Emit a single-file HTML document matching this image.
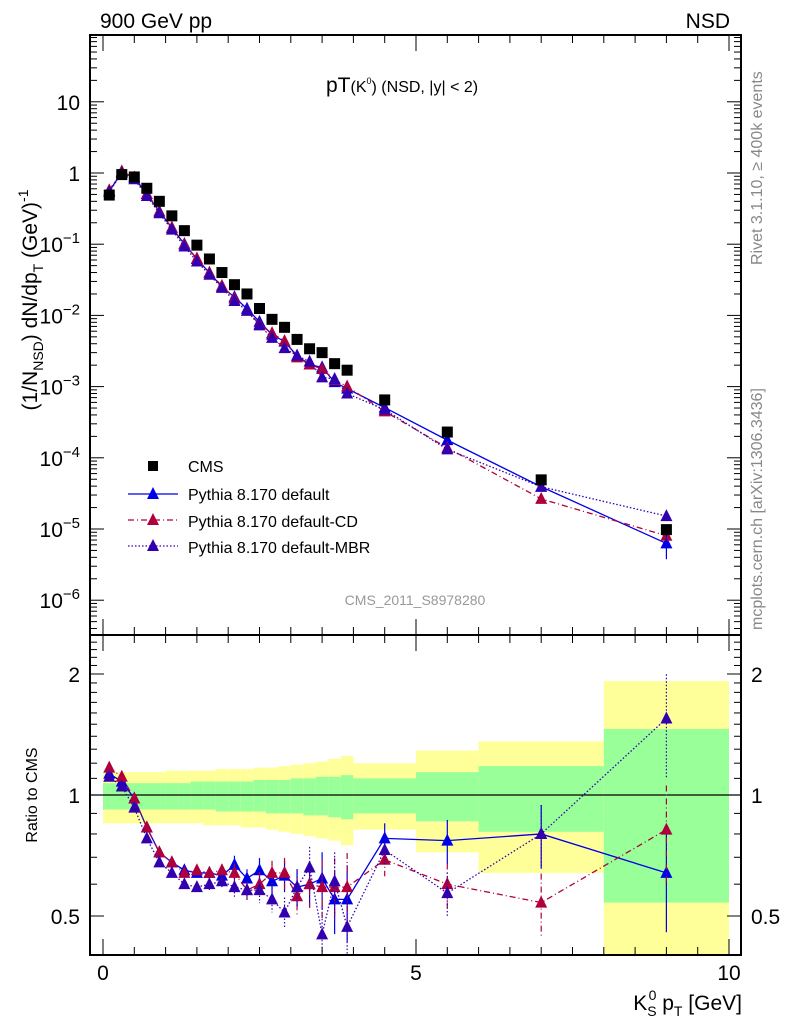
<!DOCTYPE html>
<html><head><meta charset="utf-8"><style>
body{margin:0;background:#fff}
svg{display:block;font-family:"Liberation Sans",sans-serif}
</style></head><body>
<svg id="c" width="786" height="1024" xmlns="http://www.w3.org/2000/svg"></svg>
<script>
const binLo=[0,0.2,0.4,0.6,0.8,1.0,1.2,1.4,1.6,1.8,2.0,2.2,2.4,2.6,2.8,3.0,3.2,3.4,3.6,3.8,4,5,6,8];
const binHi=[0.2,0.4,0.6,0.8,1.0,1.2,1.4,1.6,1.8,2.0,2.2,2.4,2.6,2.8,3.0,3.2,3.4,3.6,3.8,4.0,5,6,8,10];
const ptX=[0.1,0.3,0.5,0.7,0.9,1.1,1.3,1.5,1.7,1.9,2.1,2.3,2.5,2.7,2.9,3.1,3.3,3.5,3.7,3.9,4.5,5.5,7.0,9.0];
const cms=[0.49,0.95,0.88,0.61,0.40,0.25,0.155,0.097,0.062,0.040,0.027,0.020,0.0125,0.0088,0.0068,0.0046,0.0034,0.0030,0.0021,0.0017,6.5e-4,2.3e-4,4.9e-5,9.8e-6];
const ratioDef=[1.13,1.08,0.98,0.83,0.72,0.68,0.65,0.64,0.64,0.63,0.67,0.62,0.65,0.61,0.63,0.59,0.60,0.62,0.55,0.55,0.78,0.77,0.80,0.64];
const ratioCD=[1.17,1.11,0.98,0.83,0.72,0.68,0.64,0.65,0.64,0.65,0.64,0.58,0.60,0.64,0.64,0.56,0.60,0.59,0.59,0.59,0.69,0.60,0.54,0.82];
const ratioMBR=[1.11,1.05,0.93,0.78,0.68,0.64,0.60,0.59,0.60,0.61,0.59,0.58,0.58,0.55,0.51,0.59,0.66,0.45,0.61,0.47,0.73,0.57,0.80,1.55];
const errRel=[0.01,0.01,0.01,0.01,0.01,0.01,0.015,0.015,0.02,0.02,0.03,0.03,0.04,0.04,0.05,0.06,0.07,0.09,0.10,0.12,0.05,0.07,0.10,0.16];
const yelUp=[1.14,1.14,1.14,1.14,1.14,1.15,1.15,1.15,1.15,1.16,1.16,1.16,1.17,1.17,1.18,1.19,1.20,1.21,1.23,1.25,1.20,1.29,1.36,1.92];
const yelDn=[0.85,0.85,0.85,0.85,0.85,0.85,0.85,0.85,0.84,0.84,0.84,0.83,0.83,0.82,0.81,0.80,0.79,0.78,0.77,0.75,0.82,0.72,0.64,0.30];
const grnUp=[1.07,1.07,1.07,1.07,1.07,1.07,1.07,1.08,1.08,1.08,1.08,1.08,1.09,1.09,1.09,1.10,1.10,1.11,1.11,1.12,1.10,1.14,1.18,1.46];
const grnDn=[0.92,0.92,0.92,0.92,0.92,0.92,0.92,0.92,0.92,0.91,0.91,0.91,0.91,0.90,0.90,0.90,0.89,0.89,0.88,0.87,0.90,0.86,0.81,0.54];
const mainTickExp=[1,0,-1,-2,-3,-4,-5,-6];
const xTicks=[0,5,10];

const svg=document.getElementById('c');const NS='http://www.w3.org/2000/svg';
function el(t,a,p){const e=document.createElementNS(NS,t);for(const k in a)e.setAttribute(k,a[k]);(p||svg).appendChild(e);return e;}
const L=90,R=741,T=35,M=635,B=955;
const X=v=>103+v*62.6;
const Y=v=>173-71.2*Math.log10(v);
const RY=v=>795-402*Math.log10(v);
const ser=[
 {r:ratioDef,c:'#0000e6',d:'',n:'default'},
 {r:ratioCD,c:'#b0003c',d:'6,3,1,3',n:'cd'},
 {r:ratioMBR,c:'#3300b0',d:'1.5,2',n:'mbr'}];

for(let i=0;i<binLo.length;i++){
 let r=el('rect',{x:X(binLo[i]),y:RY(yelUp[i]),width:X(binHi[i])-X(binLo[i]),height:Math.min(B,RY(yelDn[i]))-RY(yelUp[i]),fill:'#ffff99'});
 
 let g=el('rect',{x:X(binLo[i]),y:RY(grnUp[i]),width:X(binHi[i])-X(binLo[i]),height:RY(grnDn[i])-RY(grnUp[i]),fill:'#99ff99'});
 
}
el('line',{x1:L,x2:R,y1:RY(1),y2:RY(1),stroke:'#000','stroke-width':1.3});

function tri(x,y,c,name){const t=el('polygon',{points:`${x-6},${y+5} ${x+6},${y+5} ${x},${y-7}`,fill:c});
 }

ser.forEach(s=>{
 const pts=ptX.map((x,i)=>[X(x),Y(cms[i]*s.r[i])]);
 const l=el('polyline',{points:pts.map(p=>p.join(',')).join(' '),fill:'none',stroke:s.c,'stroke-width':1.3,'stroke-dasharray':s.d});
 
 pts.forEach(p=>tri(p[0],p[1],s.c,'point-'+s.n));
 const rp=ptX.map((x,i)=>[X(x),RY(s.r[i])]);
 const rl=el('polyline',{points:rp.map(p=>p.join(',')).join(' '),fill:'none',stroke:s.c,'stroke-width':1.3,'stroke-dasharray':s.d});
 
 rp.forEach((p,i)=>{
  const e=errRel[i]*1.8*s.r[i];
  if(e>0.02){const eb=el('line',{x1:p[0],x2:p[0],y1:RY(s.r[i]*(1+errRel[i]*1.8)),y2:Math.min(B,RY(Math.max(0.3,s.r[i]*(1-errRel[i]*1.8)))),stroke:s.c,'stroke-width':1.2,'stroke-dasharray':s.d});
   }
  tri(p[0],p[1],s.c,'ratio-point-'+s.n);});
});
el('line',{x1:X(9),x2:X(9),y1:Y(cms[23]*ratioDef[23]*1.4),y2:Y(cms[23]*ratioDef[23]*0.6),stroke:'#0000e6','stroke-width':1.2});
ptX.forEach((x,i)=>{const s=el('rect',{x:X(x)-5.5,y:Y(cms[i])-5.5,width:11,height:11,fill:'#000'});
 });

el('rect',{x:L,y:T,width:R-L,height:M-T,fill:'none',stroke:'#000','stroke-width':2});
el('rect',{x:L,y:M,width:R-L,height:B-M,fill:'none',stroke:'#000','stroke-width':2});
for(let e=-7;e<=1;e++){for(let k=1;k<10;k++){const v=k*Math.pow(10,e);const y=Y(v);if(y<T||y>M)continue;
 const len=k==1?14:7;el('line',{x1:L,x2:L+len,y1:y,y2:y,stroke:'#000'});el('line',{x1:R,x2:R-len,y1:y,y2:y,stroke:'#000'});}}
mainTickExp.forEach(e=>{const y=Y(Math.pow(10,e));
 const t=el('text',{x:80,y:y+8,'text-anchor':'end','font-size':21});
 
 if(e==1)t.textContent='10';else if(e==0)t.textContent='1';
 else{const a=el('tspan',{},t);a.textContent='10';const b=el('tspan',{'font-size':15,dy:-9},t);b.textContent='−'+(-e);}
});
for(let v=0.4;v<=2.5;v+=0.1){const y=RY(v);if(y<M||y>B)continue;const maj=Math.abs(v-0.5)<1e-6||Math.abs(v-1)<1e-6||Math.abs(v-2)<1e-6;
 const len=maj?14:7;el('line',{x1:L,x2:L+len,y1:y,y2:y,stroke:'#000'});el('line',{x1:R,x2:R-len,y1:y,y2:y,stroke:'#000'});}
[[2,'2'],[1,'1'],[0.5,'0.5']].forEach(([v,s])=>{const a=el('text',{x:80,y:RY(v)+8,'text-anchor':'end','font-size':21});a.textContent=s;
 const b=el('text',{x:751,y:RY(v)+8,'font-size':21});b.textContent=s;
 
 });
for(let v=0;v<=10.01;v+=0.5){const x=X(v);const maj=Math.abs(v%5)<1e-6;const len=maj?16:8;
 [[T,1],[M,1],[B,-1]].forEach(([y0,d])=>{el('line',{x1:x,x2:x,y1:y0,y2:y0+d*len,stroke:'#000'});});
 el('line',{x1:x,x2:x,y1:M,y2:M-len,stroke:'#000'});}
xTicks.forEach(v=>{const t=el('text',{x:X(v),y:980,'text-anchor':'middle','font-size':21});t.textContent=v;
 });
</script>
<svg width="786" height="1024" style="position:absolute;left:0;top:0" font-family="Liberation Sans, sans-serif">
<text x="100" y="28" font-size="21">900 GeV pp</text>
<text x="730" y="28" font-size="21" text-anchor="end">NSD</text>
<text x="326" y="92" font-size="21">pT<tspan font-size="16">(K</tspan><tspan font-size="9" dy="-8">0</tspan><tspan font-size="16" dy="8">) (NSD, |y| &lt; 2)</tspan></text>
<text transform="translate(37,300) rotate(-90)" font-size="21" text-anchor="middle">(1/N<tspan font-size="14" dy="6">NSD</tspan><tspan dy="-6">) dN/dp</tspan><tspan font-size="14" dy="6">T</tspan><tspan dy="-6"> (GeV)</tspan><tspan font-size="14" dy="-9">-1</tspan></text>
<text transform="translate(37,795) rotate(-90)" font-size="16" text-anchor="middle">Ratio to CMS</text>
<text x="742" y="1010" font-size="21" text-anchor="end">K<tspan font-size="14" dy="6">S</tspan><tspan font-size="14" dx="-8" dy="-16">0</tspan><tspan dy="10"> p</tspan><tspan font-size="14" dy="6">T</tspan><tspan dy="-6"> [GeV]</tspan></text>
<text transform="translate(762,265) rotate(-90)" font-size="16" fill="#888">Rivet 3.1.10, ≥ 400k events</text>
<text transform="translate(762,630) rotate(-90)" font-size="16" fill="#888">mcplots.cern.ch [arXiv:1306.3436]</text>
<text x="415" y="605" font-size="14" fill="#999" text-anchor="middle">CMS_2011_S8978280</text>
<g font-size="16">
<rect x="148" y="461" width="10" height="10" fill="#000"/>
<text x="188" y="472">CMS</text>
<line x1="128" y1="494" x2="178" y2="494" stroke="#0000e6" stroke-width="1.3"/><polygon points="147,499 159,499 153,487" fill="#0000e6"/>
<text x="188" y="500">Pythia 8.170 default</text>
<line x1="128" y1="520" x2="178" y2="520" stroke="#b0003c" stroke-width="1.3" stroke-dasharray="6,3,1,3"/><polygon points="147,525 159,525 153,513" fill="#b0003c"/>
<text x="188" y="527">Pythia 8.170 default-CD</text>
<line x1="128" y1="546" x2="178" y2="546" stroke="#3300b0" stroke-width="1.3" stroke-dasharray="1.5,2"/><polygon points="147,551 159,551 153,539" fill="#3300b0"/>
<text x="188" y="553">Pythia 8.170 default-MBR</text>
</g>
</svg>
</body></html>
